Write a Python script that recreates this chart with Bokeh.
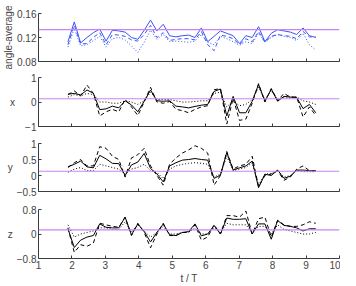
from bokeh.plotting import figure
from bokeh.layouts import column
from bokeh.models import Range1d, FixedTicker, Span
from bokeh.embed import file_html
from bokeh.resources import INLINE

t = [1.88, 2.07, 2.26, 2.45, 2.64, 2.83, 3.02, 3.21, 3.40, 3.59,
     3.78, 3.97, 4.16, 4.35, 4.54, 4.73, 4.92, 5.11, 5.30, 5.49,
     5.68, 5.87, 6.06, 6.25, 6.44, 6.63, 6.82, 7.01, 7.20, 7.39,
     7.58, 7.77, 7.96, 8.15, 8.34, 8.53, 8.72, 8.91, 9.10, 9.29]

avg_solid = [0.113, 0.146, 0.111, 0.120, 0.128, 0.134, 0.114, 0.132, 0.131, 0.129,
             0.120, 0.117, 0.132, 0.149, 0.131, 0.142, 0.123, 0.121, 0.123, 0.124,
             0.120, 0.136, 0.113, 0.122, 0.131, 0.127, 0.123, 0.110, 0.123, 0.120,
             0.138, 0.113, 0.127, 0.133, 0.131, 0.129, 0.125, 0.136, 0.123, 0.120]
avg_dash = [0.108, 0.140, 0.109, 0.110, 0.120, 0.128, 0.108, 0.125, 0.124, 0.122,
            0.116, 0.114, 0.125, 0.140, 0.120, 0.128, 0.115, 0.117, 0.118, 0.118,
            0.116, 0.130, 0.108, 0.098, 0.124, 0.122, 0.118, 0.108, 0.118, 0.113,
            0.130, 0.112, 0.122, 0.125, 0.123, 0.122, 0.118, 0.130, 0.121, 0.121]
avg_dot = [0.104, 0.135, 0.106, 0.108, 0.115, 0.122, 0.104, 0.118, 0.120, 0.116,
           0.106, 0.095, 0.112, 0.132, 0.117, 0.125, 0.113, 0.114, 0.113, 0.112,
           0.114, 0.125, 0.112, 0.108, 0.122, 0.118, 0.113, 0.107, 0.113, 0.110,
           0.127, 0.113, 0.120, 0.125, 0.122, 0.120, 0.115, 0.127, 0.108, 0.099]

x_solid = [0.32, 0.35, 0.29, 0.49, 0.36, -0.31, -0.28, -0.17, -0.24, 0.05,
           -0.12, -0.40, 0.03, 0.49, 0.05, 0.03, 0.05, -0.17, -0.20, -0.24,
           -0.18, -0.13, -0.10, 0.43, 0.53, -0.57, 0.23, -0.44, -0.44, 0.03,
           0.72, 0.03, 0.53, 0.03, 0.23, 0.20, 0.19, -0.27, -0.10, -0.44]
x_dash = [0.30, 0.45, 0.25, 0.69, 0.35, -0.57, -0.40, -0.30, -0.40, 0.10,
          -0.20, -0.55, 0.00, 0.60, 0.00, -0.05, 0.02, -0.30, -0.35, -0.44,
          -0.30, -0.20, -0.15, 0.50, 0.55, -0.90, 0.15, -0.75, -0.70, -0.05,
          0.75, 0.00, 0.55, 0.05, 0.35, 0.20, 0.20, -0.61, -0.20, -0.55]
x_dot = [0.20, 0.30, 0.25, 0.35, 0.30, 0.00, 0.00, -0.05, -0.05, 0.05,
         0.00, -0.10, 0.05, 0.40, 0.10, 0.10, 0.10, 0.05, 0.00, 0.00,
         0.02, 0.05, 0.05, 0.35, 0.40, -0.20, 0.05, -0.15, -0.10, 0.10,
         0.60, 0.10, 0.45, 0.10, 0.20, 0.20, 0.20, 0.05, 0.00, -0.10]

y_solid = [0.27, 0.35, 0.45, 0.27, 0.24, 0.63, 0.52, 0.38, 0.37, 0.00,
           0.33, 0.42, 0.69, 0.22, 0.05, -0.20, 0.30, 0.40, 0.48, 0.50,
           0.53, 0.50, 0.48, -0.09, 0.01, 0.72, 0.17, 0.24, 0.30, 0.45,
           -0.38, 0.04, 0.00, 0.17, -0.09, -0.02, 0.17, 0.17, 0.15, 0.14]
y_dash = [0.25, 0.40, 0.50, 0.30, 0.30, 0.90, 0.85, 0.60, 0.50, -0.05,
          0.55, 0.65, 0.85, 0.30, 0.00, -0.30, 0.35, 0.55, 0.70, 0.80,
          0.93, 0.85, 0.70, -0.30, 0.00, 0.75, 0.20, 0.30, 0.35, 0.60,
          -0.35, 0.00, 0.05, 0.15, -0.15, -0.05, 0.20, 0.30, 0.15, 0.15]
y_dot = [0.10, 0.20, 0.25, 0.15, 0.15, 0.35, 0.30, 0.25, 0.20, 0.05,
         0.20, 0.25, 0.35, 0.15, 0.10, -0.10, 0.20, 0.30, 0.35, 0.38,
         0.40, 0.38, 0.35, -0.05, 0.05, 0.60, 0.15, 0.20, 0.25, 0.40,
         -0.30, 0.05, 0.05, 0.15, -0.05, 0.00, 0.15, 0.12, 0.12, 0.12]

z_solid = [0.17, -0.44, -0.20, -0.10, -0.05, 0.33, 0.22, 0.20, 0.20, 0.55,
           -0.03, 0.33, 0.08, -0.26, 0.05, 0.33, -0.03, -0.05, 0.05, 0.08,
           0.33, -0.06, 0.00, 0.28, 0.00, 0.52, 0.48, 0.48, 0.50, 0.00,
           0.33, 0.33, -0.17, 0.44, 0.28, 0.25, 0.20, 0.10, 0.17, 0.17]
z_dash = [0.20, -0.60, -0.35, -0.40, -0.30, 0.35, 0.30, 0.25, 0.22, 0.55,
          -0.05, 0.35, 0.05, -0.45, 0.00, 0.35, -0.05, -0.05, 0.05, 0.05,
          0.30, -0.20, -0.10, 0.30, 0.00, 0.60, 0.60, 0.55, 0.75, 0.00,
          0.50, 0.55, -0.10, 0.45, 0.30, 0.25, 0.25, 0.30, 0.40, 0.35]
z_dot = [0.30, -0.10, 0.00, 0.05, 0.10, 0.20, 0.20, 0.15, 0.15, 0.40,
         0.05, 0.30, 0.10, -0.10, 0.05, 0.25, 0.00, 0.00, 0.05, 0.05,
         0.20, 0.00, 0.00, 0.20, 0.05, 0.35, 0.30, 0.30, 0.30, 0.05,
         0.25, 0.25, 0.00, 0.30, 0.15, 0.10, 0.05, 0.00, 0.00, 0.05]

ref_level = 0.133
x_ticks = [1, 2, 3, 4, 5, 6, 7, 8, 9, 10]

panels = [
    dict(label="angle-average", yr=(0.08, 0.16), yt=[0.08, 0.12, 0.16],
         ylabels={0.08: "0.08", 0.12: "0.12", 0.16: "0.16"},
         data=(avg_solid, avg_dash, avg_dot), color="#3a55f5", horiz=False),
    dict(label="x", yr=(-1, 1), yt=[-1, 0, 1],
         ylabels={-1: "\u22121", 0: "0", 1: "1"},
         data=(x_solid, x_dash, x_dot), color="black", horiz=True),
    dict(label="y", yr=(-0.5, 1), yt=[-0.5, 0, 0.5, 1],
         ylabels={-0.5: "\u22120.5", 0: "0", 0.5: "0.5", 1: "1"},
         data=(y_solid, y_dash, y_dot), color="black", horiz=True),
    dict(label="z", yr=(-0.8, 0.8), yt=[-0.8, 0, 0.8],
         ylabels={-0.8: "\u22120.8", 0: "0", 0.8: "0.8"},
         data=(z_solid, z_dash, z_dot), color="black", horiz=True),
]

FONT = "Liberation Sans"
AX = "#3c3c3c"
tops = [13, 6, 7, 7]
heights = [48, 49, 48, 49]
bottoms = [10, 10, 11, 24]
figs = []
for i, pn in enumerate(panels):
    last = i == len(panels) - 1
    p = figure(output_backend="svg", toolbar_location=None,
               frame_width=301, frame_height=heights[i],
               x_range=Range1d(1, 10), y_range=Range1d(*pn["yr"]),
               min_border_left=34, min_border_right=5,
               min_border_top=tops[i], min_border_bottom=bottoms[i])
    p.outline_line_color = None
    p.grid.visible = False
    p.background_fill_color = "white"
    p.border_fill_color = "white"

    p.add_layout(Span(location=ref_level, dimension="width",
                      line_color="#c884f4", line_width=1.2))
    s, d, o = pn["data"]
    p.line(t, s, line_color=pn["color"], line_width=1)
    p.line(t, d, line_color=pn["color"], line_width=1, line_dash="4 3")
    p.line(t, o, line_color=pn["color"], line_width=1, line_dash="1 2")

    xa = p.xaxis[0]
    xa.ticker = FixedTicker(ticks=x_ticks)
    xa.minor_tick_line_color = None
    xa.major_tick_in = 3
    xa.major_tick_out = 0
    xa.axis_line_color = AX
    xa.major_tick_line_color = AX
    if last:
        xa.axis_label = "t / T"
        xa.axis_label_text_font = FONT
        xa.axis_label_text_font_size = "10px"
        xa.axis_label_text_font_style = "normal"
        xa.axis_label_standoff = 1
        xa.major_label_text_font = FONT
        xa.major_label_text_font_size = "10px"
        xa.major_label_standoff = 2
    else:
        xa.major_label_overrides = {k: "" for k in x_ticks}
        xa.major_label_text_font_size = "1px"
        xa.major_label_text_color = None
        xa.major_label_standoff = 0

    ya = p.yaxis[0]
    ya.ticker = FixedTicker(ticks=pn["yt"])
    ya.major_label_overrides = pn["ylabels"]
    ya.minor_tick_line_color = None
    ya.major_tick_in = 3
    ya.major_tick_out = 0
    ya.axis_line_color = AX
    ya.major_tick_line_color = AX
    ya.major_label_text_font = FONT
    ya.major_label_text_font_size = "10px"
    ya.major_label_standoff = 2
    ya.axis_label = pn["label"]
    ya.axis_label_text_font = FONT
    ya.axis_label_text_font_size = "10px"
    ya.axis_label_text_font_style = "normal"
    ya.axis_label_standoff = 0
    if pn["horiz"]:
        ya.axis_label_orientation = "horizontal"
        ya.axis_label_standoff = 7 if pn["label"] == "x" else 1
    figs.append(p)

layout = column(*figs, spacing=0)
open("out.html", "w").write(file_html(layout, INLINE))
